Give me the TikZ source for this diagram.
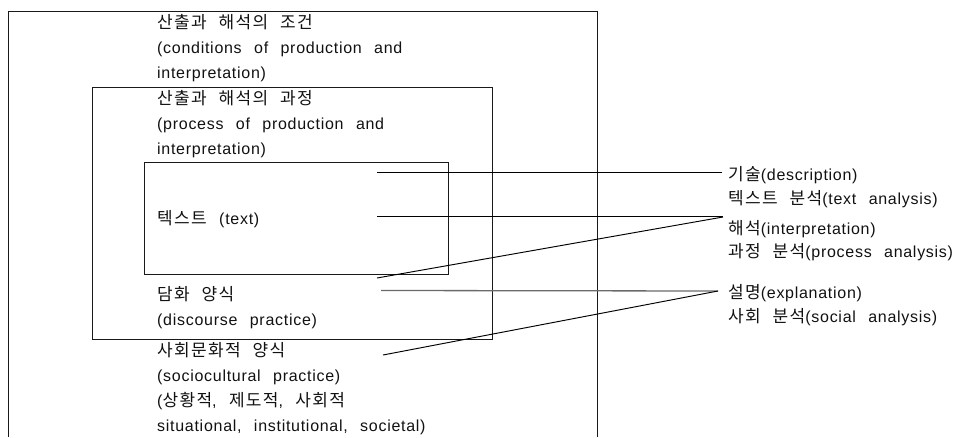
\documentclass[tikz,border=0pt]{standalone}
\usepackage{fontspec}
\setmainfont{Liberation Sans}[LetterSpace=4.5,WordSpace=2.4]
\newfontfamily\krfont{Noto Sans CJK KR}[LetterSpace=8,WordSpace=2.3]
\newcommand\kr[1]{{\krfont\fontsize{17}{20}\selectfont #1}}
\definecolor{txt}{HTML}{111111}
\definecolor{grayline}{HTML}{6A6A6A}
\tikzset{
  lbl/.style={anchor=base west,inner sep=0pt,text=txt,font=\fontsize{16}{20}\selectfont},
  boxline/.style={draw=black!90,line width=1pt},
  conn/.style={draw=black,line width=0.95pt},
  gconn/.style={draw=grayline,line width=1.3pt}
}
\begin{document}
\begin{tikzpicture}[x=1pt,y=-1pt]
\useasboundingbox (0,0) rectangle (969,437);
% boxes
\draw[boxline] (8.5,437) -- (8.5,11.5) -- (597.5,11.5) -- (597.5,437);
\draw[boxline] (92.5,87.5) rectangle (492.5,339.5);
\draw[boxline] (144.5,162.5) rectangle (448.5,274.5);
% left texts
\node[lbl] (c1) at (157,28) {\kr{산출과 해석의 조건}};
\node[lbl] (c2) at (157,53) {(conditions of production and};
\node[lbl] (c3) at (157,78) {interpretation)};
\node[lbl] (p1) at (157,104) {\kr{산출과 해석의 과정}};
\node[lbl] (p2) at (157,129) {(process of production and};
\node[lbl] (p3) at (157,154) {interpretation)};
\node[lbl] (t1) at (157,224) {\kr{텍스트} (text)};
\node[lbl] (d1) at (157,300) {\kr{담화 양식}};
\node[lbl] (d2) at (157,325) {(discourse practice)};
\node[lbl] (s1) at (157,356) {\kr{사회문화적 양식}};
\node[lbl] (s2) at (157,381) {(sociocultural practice)};
\node[lbl] (s3) at (157,406) {(\kr{상황적}, \kr{제도적}, \kr{사회적}};
\node[lbl] (s4) at (157,431) {situational, institutional, societal)};
% right texts
\node[lbl] (r1) at (728,180) {\kr{기술}(description)};
\node[lbl] (r2) at (728,204) {\kr{텍스트 분석}(text analysis)};
\node[lbl] (r3) at (728,234) {\kr{해석}(interpretation)};
\node[lbl] (r4) at (728,257) {\kr{과정 분석}(process  analysis)};
\node[lbl] (r5) at (728,298) {\kr{설명}(explanation)};
\node[lbl] (r6) at (728,322) {\kr{사회 분석}(social analysis)};
% connector ends
\coordinate (a1) at (377,172.5);
\coordinate (b1) at (722,172.5);
\coordinate (a2) at (377,216.5);
\coordinate (b2) at (723,216.5);
\coordinate (a3) at (377,278);
\coordinate (b3) at (723,217);
\coordinate (a4) at (381,290.5);
\coordinate (b4) at (718,291);
\coordinate (a5) at (383,355);
\coordinate (b5) at (718,291);
\draw[conn] (a1) -- (b1);
\draw[conn] (a2) -- (b2);
\draw[conn] (a3) -- (b3);
\draw[gconn] (a4) -- (b4);
\draw[conn] (a5) -- (b5);
\end{tikzpicture}
\end{document}
